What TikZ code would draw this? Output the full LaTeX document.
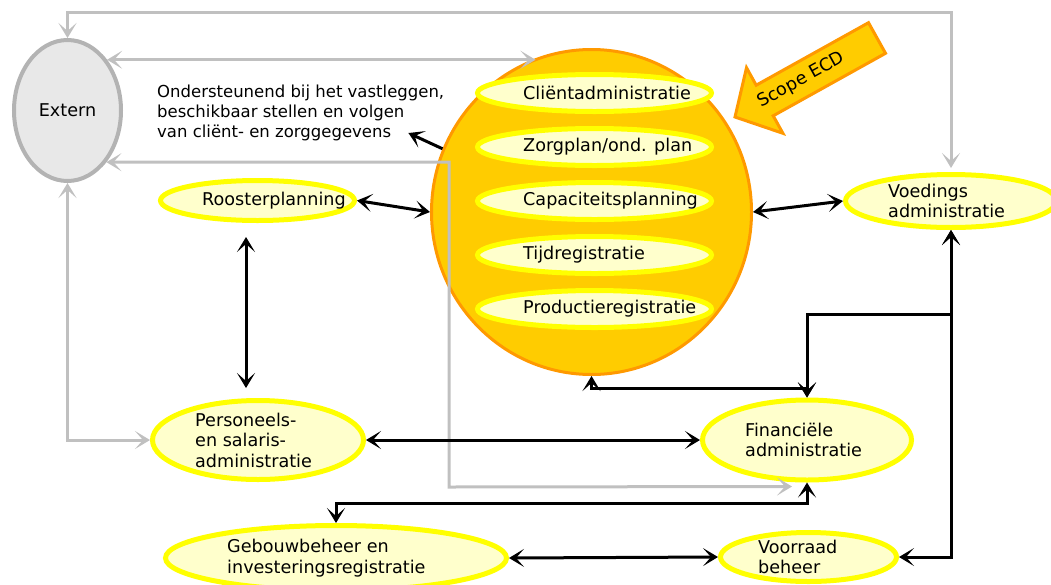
\documentclass[tikz,border=0pt]{standalone}
\usepackage{fontspec}
\setmainfont{DejaVu Sans}
\usetikzlibrary{shapes,arrows.meta,positioning,calc}

\definecolor{sunfill}{HTML}{FFCC00}
\definecolor{sunline}{HTML}{FF9900}
\definecolor{appfill}{HTML}{FFFFCC}
\definecolor{appline}{HTML}{FFFF00}
\definecolor{extfill}{HTML}{E8E8E8}
\definecolor{extline}{HTML}{B3B3B3}
\definecolor{linkgray}{HTML}{C0C0C0}

\tikzset{
    barb/.tip={Stealth[length=15pt,width=18pt,inset=8pt]},
    app/.style={ellipse, draw=appline, fill=appfill, line width=5pt, inner sep=0pt},
    applabel/.style={anchor=west, inner sep=0pt, align=left, font=\fontsize{17.6}{20.5}\selectfont},
    link/.style={line width=3pt, barb-barb},
    glink/.style={line width=3pt, draw=linkgray, barb-barb}
}

\begin{document}
\begin{tikzpicture}[x=1pt, y=-1pt]
    \useasboundingbox (0,0) rectangle (1051,584);

    	%-----Systems-----
        % Extern
        \node [ellipse, draw=extline, fill=extfill, line width=4pt, minimum width=107pt, minimum height=141pt, font=\fontsize{17.6}{20.5}\selectfont] (ext) at (67.5,110.5) {Extern};

        % ECD (sun)
        \node [ellipse, draw=sunline, fill=sunfill, line width=3pt, minimum width=320pt, minimum height=325pt] (sun) at (591.5,212) {};

        % ECD modules
        \node [app, minimum width=234pt, minimum height=37pt, label={[applabel, xshift=48pt]west:Cliëntadministratie}] (clad) at (594.5,93) {};
        \node [app, minimum width=234pt, minimum height=37pt, below=12pt of clad, label={[applabel, xshift=48pt]west:Zorgplan/ond. plan}] (zorg) {};
        \node [app, minimum width=234pt, minimum height=37pt, below=12pt of zorg, label={[applabel, xshift=48pt]west:Capaciteitsplanning}] (capa) {};
        \node [app, minimum width=234pt, minimum height=37pt, below=12pt of capa, label={[applabel, xshift=48pt]west:Tijdregistratie}] (tijd) {};
        \node [app, minimum width=234pt, minimum height=37pt, below=12pt of tijd, label={[applabel, xshift=48pt]west:Productieregistratie}] (prod) {};

        % Scope arrow
        \draw [draw=sunline, fill=sunfill, line width=3pt] (735,117) -- (782.9,133.3) -- (773.2,115.8) -- (885.5,53.3)
            -- (868.5,22.7) -- (756.2,85.2) -- (746.5,67.7) -- cycle;
        \node [rotate=29, inner sep=0pt, font=\fontsize{17.6}{20.5}\selectfont] (scope) at (801.4,80.1) {Scope ECD};

        % Description
        \node [anchor=west, inner sep=0pt, align=left, font=\fontsize{16.5}{20}\selectfont] (desc) at (157,113) {%
            Ondersteunend bij het vastleggen,\\
            beschikbaar stellen en volgen\\
            van cliënt- en zorggegevens
        };

        % Roosterplanning
        \node [app, minimum width=194pt, minimum height=40pt, label={[applabel, xshift=44pt]west:Roosterplanning}] (roost) at (257.5,200.5) {};

        % Voedings administratie
        \node [app, minimum width=211pt, minimum height=53pt, label={[applabel, xshift=45pt]west:Voedings\\administratie}] (voed) at (951,201) {};

        % Personeels- en salarisadministratie
        \node [app, minimum width=211pt, minimum height=79pt, label={[applabel, xshift=45pt]west:Personeels-\\en salaris-\\administratie}] (pers) at (258,440) {};

        % Financiele administratie
        \node [app, minimum width=209pt, minimum height=80pt, right=334pt of pers, label={[applabel, xshift=45pt]west:Financiële\\administratie}] (fin) {};

        % Gebouwbeheer
        \node [app, minimum width=341pt, minimum height=65pt, label={[applabel, xshift=64pt]west:Gebouwbeheer en\\investeringsregistratie}] (geb) at (336,558) {};

        % Voorraad beheer
        \node [app, minimum width=176pt, minimum height=49pt, label={[applabel, xshift=40pt]west:Voorraad\\beheer}] (voor) at (808.5,557) {};

        %-----Links-----
        % external links
        \draw [glink] (ext.north) -- (ext.north |- 0,12) -- (voed.north |- 0,12) -- ([yshift=4pt]voed.north);
        \draw [glink] (ext.52) -- (ext.52 -| sun.110);
        \draw [glink] (ext.-53) -| (449,487) -- ([xshift=-15pt,yshift=-4pt]fin.south);
        \draw [glink] (ext.south) |- (pers.west);

        % internal links
        \draw [line width=3pt, -barb] (sun.157) -- ($(desc.east)+(-36,20)$);
        \draw [link] (roost.east) -- (sun.west);
        \draw [link] (sun.east) -- (voed.west);
        \draw [link] ([xshift=-11.5pt,yshift=-14pt]roost.south) -- ([xshift=-12pt,yshift=10pt]pers.north);
        \draw [link] (pers.east) -- (fin.west);
        \draw [link] (sun.south) -- (sun.south |- 0,388) -| (fin.north);
        \draw [link] (voed.south) -- (voed.south |- 0,314) -| (fin.north);
        \draw [link] (voed.south) |- (voor.east);
        \draw [link] (fin.south) -- (fin.south |- 0,503) -| (geb.north);
        \draw [link] (geb.east) -- (voor.west);

\end{tikzpicture}
\end{document}
